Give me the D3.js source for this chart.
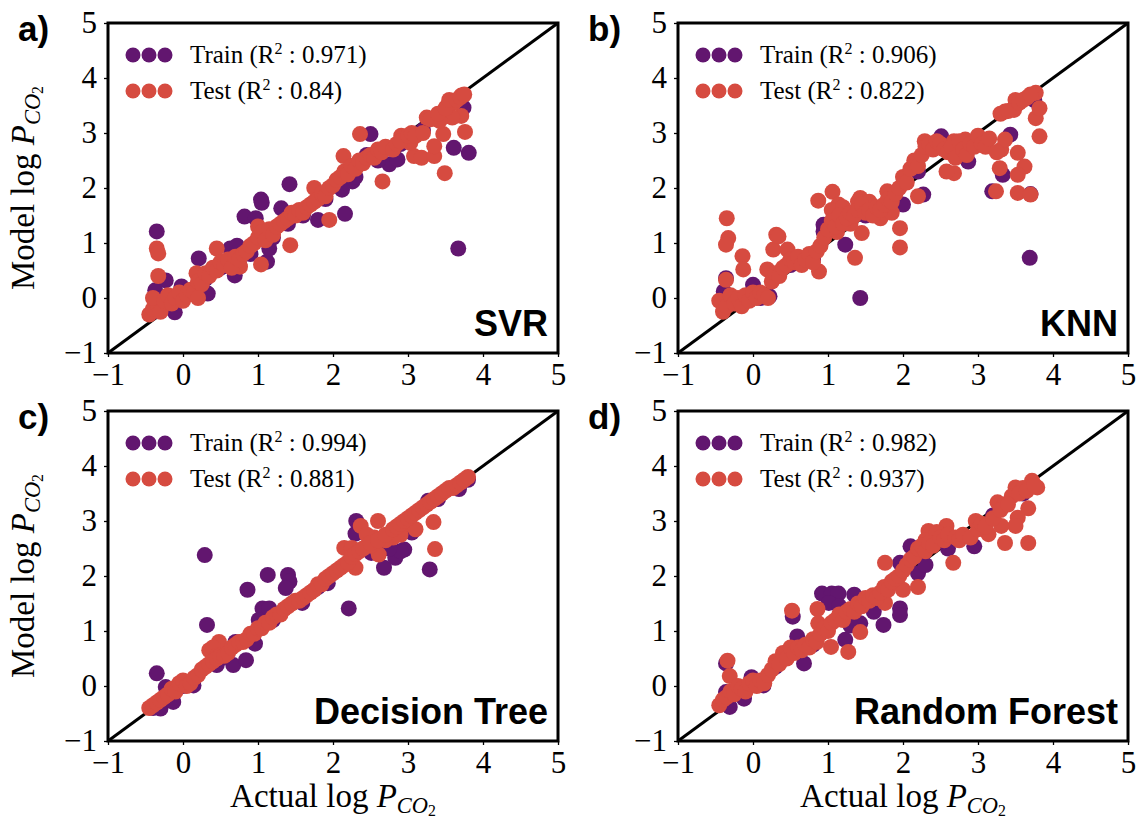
<!DOCTYPE html>
<html>
<head>
<meta charset="utf-8">
<script src="https://cdn.jsdelivr.net/npm/d3@7"></script>
<style>
body { margin: 0; background: #fff; }
</style>
</head>
<body>
<div id="painting"></div>
<script>
// actual vs model log P(CO2): [actual, model]
var svrTrain = [
  [-0.35,1.21],[3.67,0.90],[1.42,2.07],[1.04,1.79],[1.05,1.73],[0.82,1.48],[1.31,1.63],[2.16,1.53],
  [1.80,1.42],[2.50,2.98],[3.61,2.73],[3.81,2.64],[3.74,3.46],[-0.23,0.32],[-0.37,0.14],[-0.02,0.21],
  [0.33,0.08],[-0.11,-0.26],[0.21,0.72],[0.63,0.90],[0.69,0.41],[1.12,0.66],[1.15,0.90],[2.75,2.43],
  [2.86,2.52],[2.26,2.12],[2.12,1.97],[0.97,1.45],[0.72,0.95],[-0.40,-0.25],[-0.30,0.00],[0.00,0.10],
  [0.30,0.35],[0.50,0.55],[0.75,0.60],[0.90,0.80],[1.20,1.10],[1.40,1.35],[1.60,1.50],[1.90,1.80],
  [2.30,2.20],[2.45,2.60],[2.60,2.50],[2.90,2.80],[3.20,3.05],[3.45,3.30],[3.70,3.55]
];
var svrTest = [
  [-0.35,0.90],[-0.33,0.81],[-0.33,0.40],[1.43,0.96],[1.04,0.61],[2.36,2.98],[2.66,2.12],[3.49,2.27],
  [3.08,2.58],[3.18,2.55],[3.35,2.58],[3.35,2.76],[3.47,2.98],[3.76,3.02],[3.71,3.31],[3.59,3.28],
  [3.25,3.28],[3.42,3.22],[1.95,1.42],[1.75,2.00],[2.14,2.58],[2.91,2.95],[3.03,2.82],[3.61,3.55],
  [3.71,3.68],[3.52,3.49],[0.45,0.90],[0.18,0.45],[0.76,0.57],
  [-0.45,-0.30],[-0.40,-0.20],[-0.35,-0.10],[-0.40,0.00],[-0.30,-0.25],[-0.25,-0.05],[-0.20,0.05],
  [-0.15,-0.10],[-0.10,0.00],[-0.05,0.10],[0.00,-0.05],[0.05,0.05],[0.10,0.15],[0.15,0.10],[0.20,0.30],
  [0.25,0.25],[0.20,0.00],[0.30,0.45],[0.35,0.40],[0.40,0.55],[0.45,0.50],[0.50,0.65],[0.55,0.60],
  [0.60,0.70],[0.65,0.55],[0.70,0.75],[0.75,0.70],[0.80,0.80],[0.85,0.85],[0.90,0.95],[0.95,1.00],
  [1.00,1.10],[1.00,1.30],[1.05,1.20],[1.10,1.05],[1.15,1.25],[1.20,1.15],[1.25,1.30],[1.30,1.35],
  [1.35,1.40],[1.40,1.45],[1.45,1.55],[1.50,1.50],[1.55,1.60],[1.60,1.55],[1.65,1.65],[1.70,1.70],
  [1.75,1.75],[1.80,1.80],[1.85,1.90],[1.90,1.85],[1.95,2.00],[2.00,2.05],[2.05,2.15],[2.10,2.20],
  [2.15,2.30],[2.20,2.25],[2.25,2.40],[2.30,2.35],[2.35,2.50],[2.40,2.45],[2.45,2.55],[2.50,2.60],
  [2.55,2.55],[2.60,2.70],[2.65,2.65],[2.70,2.75],[2.80,2.70],[2.85,2.80],[2.90,2.85],[3.00,2.95],
  [3.05,3.00],[3.10,2.95],[3.20,3.00],[3.30,3.25],[3.40,3.35],[3.50,3.45],[3.55,3.60],[3.65,3.60],
  [3.70,3.65],[3.75,3.70]
];

var knnTrain = [
  [1.43,0.00],[3.69,0.73],[3.43,2.97],[3.33,2.24],[3.19,1.94],[3.70,1.89],[2.27,1.88],[2.00,1.70],
  [2.87,2.48],[2.51,2.94],[-0.36,0.36],[-0.39,0.12],[0.00,0.24],[0.94,1.33],[0.94,1.21],[1.23,0.97],
  [0.22,0.03],[-0.30,-0.10],[0.10,0.00],[0.50,0.60],[0.80,0.70],[1.10,1.40],[1.50,1.50],[1.80,1.60],
  [2.20,2.30],[2.60,2.75],[2.90,2.80],[3.50,3.50],[3.75,3.60]
];
var knnTest = [
  [-0.35,1.45],[-0.33,1.09],[-0.36,0.97],[-0.14,0.76],[-0.13,0.52],[-0.36,0.33],[0.19,0.52],[0.27,0.88],
  [0.31,1.15],[0.34,1.12],[0.46,0.88],[0.87,1.77],[1.06,1.93],[1.14,1.70],[0.88,0.48],[1.36,0.73],
  [1.43,1.82],[1.45,1.18],[1.96,0.92],[1.96,1.27],[1.79,1.94],[2.20,1.85],[2.68,2.27],[2.58,2.30],
  [3.24,1.94],[3.29,2.36],[3.53,2.64],[3.62,2.39],[3.53,2.24],[3.53,1.91],[3.70,1.88],[3.82,2.94],
  [3.77,3.27],[3.82,3.45],[3.31,2.70],[3.36,2.88],[3.36,3.39],[3.48,3.42],[3.50,3.60],[3.65,3.64],
  [3.77,3.73],[2.68,2.85],[2.29,2.85],[2.83,2.88],[1.05,1.60],[1.12,1.20],[1.20,1.65],[1.30,1.35],
  [1.40,1.75],[1.55,1.75],[1.70,1.45],[1.85,1.55],
  [-0.45,-0.05],[-0.40,-0.25],[-0.35,-0.15],[-0.30,0.05],[-0.25,-0.10],[-0.20,0.00],[-0.15,-0.15],
  [-0.10,0.05],[-0.05,-0.05],[0.00,0.10],[0.05,0.00],[0.10,0.10],[0.15,0.05],[0.20,0.00],[0.25,0.30],
  [0.30,0.45],[0.35,0.40],[0.40,0.55],[0.45,0.60],[0.50,0.70],[0.55,0.65],[0.60,0.75],[0.65,0.60],
  [0.70,0.70],[0.75,0.80],[0.80,0.65],[0.85,0.85],[0.90,0.95],[0.95,1.10],[1.00,1.25],[1.05,1.40],
  [1.10,1.30],[1.15,1.50],[1.20,1.35],[1.25,1.45],[1.30,1.55],[1.35,1.50],[1.40,1.60],[1.45,1.70],
  [1.50,1.55],[1.55,1.60],[1.60,1.50],[1.65,1.65],[1.70,1.60],[1.75,1.70],[1.80,1.80],[1.85,1.75],
  [1.90,1.90],[1.95,2.00],[2.00,2.20],[2.05,2.10],[2.10,2.35],[2.15,2.50],[2.20,2.40],[2.25,2.60],
  [2.30,2.75],[2.35,2.80],[2.40,2.70],[2.45,2.85],[2.50,2.80],[2.55,2.70],[2.60,2.65],[2.65,2.75],
  [2.70,2.55],[2.75,2.85],[2.80,2.70],[2.85,2.60],[2.90,2.80],[2.95,2.75],[3.00,2.95],[3.05,2.80],
  [3.10,2.75],[3.15,2.90],[3.25,2.65],[3.30,3.35],[3.40,3.40],[3.55,3.55],[3.60,3.60],[3.70,3.70]
];

var dtTrain = [
  [0.29,2.38],[0.32,1.11],[-0.35,0.23],[-0.23,-0.02],[1.13,2.02],[0.86,1.75],[1.40,2.02],[1.42,1.90],
  [1.37,1.78],[1.06,1.41],[1.15,1.41],[1.01,1.20],[2.21,1.41],[2.31,3.00],[2.30,2.77],[3.29,2.12],
  [2.68,2.15],[2.83,2.33],[2.95,2.48],[2.90,2.45],[2.51,2.42],[3.27,3.37],[3.68,3.58],[3.05,2.79],
  [0.67,0.38],[0.84,0.47],[0.96,0.77],[0.45,0.38],[-0.30,-0.41],[-0.13,-0.29],[0.14,0.01],[1.93,1.87],
  [1.59,1.51],[0.70,0.80],[2.75,2.50],[3.80,3.75],[-0.40,-0.40],[0.00,0.00],[0.50,0.50],[1.20,1.20],
  [1.80,1.80],[2.60,2.60],[3.40,3.40]
];
var dtTest = [
  [3.34,2.98],[3.36,2.49],[2.60,3.00],[2.37,2.91],[2.61,2.39],[2.15,2.51],[2.25,2.51],[2.30,2.15],
  [0.48,0.80],[0.35,0.65],[0.40,0.70],[0.45,0.55],[2.55,2.70],[2.50,2.55],[2.45,2.75],[2.90,2.75],
  [3.00,2.95],[3.10,2.85],[2.80,2.70],[2.70,2.65],
  [-0.45,-0.40],[-0.40,-0.35],[-0.35,-0.30],[-0.30,-0.25],[-0.25,-0.20],[-0.20,-0.15],[-0.15,-0.05],
  [-0.10,-0.10],[-0.05,0.05],[0.00,0.10],[0.05,0.00],[0.10,0.05],[0.15,0.15],[0.20,0.20],[0.25,0.30],
  [0.30,0.35],[0.35,0.40],[0.40,0.45],[0.45,0.50],[0.50,0.55],[0.55,0.55],[0.60,0.60],[0.65,0.70],
  [0.70,0.75],[0.75,0.80],[0.80,0.80],[0.85,0.85],[0.90,0.95],[0.95,0.95],[1.00,1.05],[1.05,1.05],
  [1.10,1.15],[1.15,1.15],[1.20,1.25],[1.25,1.30],[1.30,1.30],[1.35,1.40],[1.40,1.45],[1.45,1.50],
  [1.50,1.55],[1.55,1.55],[1.60,1.60],[1.65,1.65],[1.70,1.70],[1.75,1.75],[1.80,1.85],[1.85,1.85],
  [1.90,1.95],[1.95,2.00],[2.00,2.05],[2.05,2.10],[2.10,2.15],[2.15,2.20],[2.20,2.25],[2.25,2.35],
  [2.30,2.40],[2.35,2.45],[2.40,2.50],[2.50,2.60],[2.60,2.65],[2.70,2.75],[2.80,2.85],[2.85,2.90],
  [2.90,2.95],[2.95,3.00],[3.00,3.05],[3.05,3.10],[3.10,3.15],[3.15,3.20],[3.20,3.25],[3.25,3.30],
  [3.30,3.35],[3.35,3.40],[3.40,3.45],[3.45,3.50],[3.50,3.55],[3.55,3.60],[3.60,3.60],[3.65,3.65],
  [3.70,3.70],[3.75,3.75],[3.80,3.80]
];

var rfTrain = [
  [0.53,1.26],[0.59,0.90],[0.92,1.68],[1.05,1.68],[1.14,1.68],[1.01,1.51],[1.23,0.84],[1.35,1.66],
  [1.43,1.14],[1.61,1.35],[1.74,1.11],[1.96,1.41],[1.96,1.29],[1.96,2.24],[2.20,2.05],[2.10,2.54],
  [2.95,2.54],[-0.36,-0.11],[-0.31,-0.38],[-0.12,-0.23],[-0.02,0.16],[0.14,0.01],[0.68,0.41],[-0.36,0.41],
  [1.15,1.45],[1.30,1.10],[2.30,2.20],[2.60,2.50],[3.20,3.10],[3.60,3.50],[0.30,0.35],[0.80,0.75],
  [1.50,1.55],[1.80,1.80]
];
var rfTest = [
  [-0.34,0.46],[-0.31,0.18],[0.52,1.37],[0.86,1.40],[0.87,1.14],[1.04,0.71],[1.27,0.62],[1.43,0.98],
  [1.76,2.24],[1.76,1.51],[2.20,1.80],[2.00,1.75],[2.67,2.24],[3.36,2.60],[3.67,2.60],[3.67,3.23],
  [3.53,3.06],[3.50,2.91],[3.31,2.91],[2.97,3.00],[3.14,2.76],[2.34,2.82],[2.58,2.91],[3.79,3.61],
  [3.72,3.73],[3.26,3.34],[3.35,3.30],[3.50,3.61],[3.60,3.60],[3.45,3.45],[2.30,2.65],[2.45,2.80],
  [2.20,2.45],
  [-0.45,-0.35],[-0.40,-0.25],[-0.35,-0.20],[-0.30,-0.10],[-0.25,-0.15],[-0.20,0.00],[-0.15,-0.05],
  [-0.10,-0.10],[-0.05,0.05],[0.00,0.10],[0.05,0.00],[0.10,0.10],[0.15,0.05],[0.20,0.20],[0.25,0.30],
  [0.30,0.45],[0.35,0.40],[0.40,0.60],[0.45,0.50],[0.50,0.70],[0.55,0.60],[0.60,0.70],[0.65,0.65],
  [0.70,0.75],[0.75,0.70],[0.80,0.85],[0.85,0.80],[0.90,0.95],[0.95,1.05],[1.00,1.00],[1.05,1.15],
  [1.10,1.20],[1.15,1.30],[1.20,1.20],[1.25,1.35],[1.30,1.40],[1.35,1.35],[1.40,1.50],[1.45,1.45],
  [1.50,1.60],[1.55,1.55],[1.60,1.65],[1.65,1.60],[1.70,1.70],[1.75,1.80],[1.80,1.75],[1.85,1.90],
  [1.90,1.95],[1.95,2.00],[2.00,2.10],[2.05,2.20],[2.10,2.30],[2.15,2.35],[2.20,2.50],[2.25,2.55],
  [2.30,2.45],[2.35,2.60],[2.40,2.55],[2.50,2.70],[2.55,2.65],[2.60,2.75],[2.70,2.70],[2.75,2.65],
  [2.80,2.75],[2.90,2.70],[3.00,2.85],[3.05,2.95],[3.10,2.90],[3.20,3.05],[3.30,3.20],[3.40,3.30],
  [3.55,3.50],[3.65,3.55],[3.75,3.65]
];

var modelNames = ["SVR", "KNN", "Decision Tree", "Random Forest"];
var panelLetters = ["a)", "b)", "c)", "d)"];
var trainR2 = ["0.971", "0.906", "0.994", "0.982"];
var testR2 = ["0.84", "0.822", "0.881", "0.937"];
var tickValues = [-1, 0, 1, 2, 3, 4, 5];

var purple = "#62166f";
var red = "#d64b40";
var serif = "'Liberation Serif', 'Times New Roman', serif";
var sans = "'Liberation Sans', Arial, sans-serif";

var w = 450, h = 330;
var origins = [[108, 23], [678, 23], [108, 411], [678, 411]];
var allData = [[svrTrain, svrTest], [knnTrain, knnTest], [dtTrain, dtTest], [rfTrain, rfTest]];

var svg = d3.select("#painting")
  .append("svg")
  .attr("width", 1138)
  .attr("height", 822)
  .style("background", "#fff");

var xScale = d3.scaleLinear().domain([-1, 5]).range([0, w]);
var yScale = d3.scaleLinear().domain([-1, 5]).range([h, 0]);

// axis title with P_{CO_2}
function pco2(sel, first, size) {
  sel.append("tspan").text(first + " log ");
  sel.append("tspan").attr("font-style", "italic").text("P");
  sel.append("tspan").attr("font-style", "italic").attr("font-size", size * 0.68).attr("dy", size * 0.18).text("CO");
  sel.append("tspan").attr("font-size", size * 0.48).attr("dy", size * 0.1).text("2");
}

allData.forEach(function(pair, k) {
  var g = svg.append("g")
    .attr("transform", "translate(" + origins[k][0] + "," + origins[k][1] + ")");

  g.append("line")
    .attr("x1", xScale(-1)).attr("y1", yScale(-1))
    .attr("x2", xScale(5)).attr("y2", yScale(5))
    .attr("stroke", "#000")
    .attr("stroke-width", 3);

  g.selectAll("circle.train")
    .data(pair[0])
    .enter()
    .append("circle")
    .attr("class", "train")
    .attr("cx", function(d) { return xScale(d[0]); })
    .attr("cy", function(d) { return yScale(d[1]); })
    .attr("r", 8)
    .attr("fill", purple);

  g.selectAll("circle.test")
    .data(pair[1])
    .enter()
    .append("circle")
    .attr("class", "test")
    .attr("cx", function(d) { return xScale(d[0]); })
    .attr("cy", function(d) { return yScale(d[1]); })
    .attr("r", 8)
    .attr("fill", red);

  var xAxis = d3.axisBottom(xScale).tickValues(tickValues).tickSize(4).tickPadding(6).tickFormat(d3.format("d"));
  var yAxis = d3.axisLeft(yScale).tickValues(tickValues).tickSize(4).tickPadding(7).tickFormat(d3.format("d"));

  var gx = g.append("g").attr("transform", "translate(0," + h + ")").call(xAxis);
  var gy = g.append("g").call(yAxis);
  [gx, gy].forEach(function(a) {
    a.select(".domain").remove();
    a.selectAll("line").attr("stroke-width", 1.3);
    a.selectAll("text").style("font-family", serif).style("font-size", "31px").attr("fill", "#000");
  });

  g.append("rect")
    .attr("width", w)
    .attr("height", h)
    .attr("fill", "none")
    .attr("stroke", "#000")
    .attr("stroke-width", 3);

  // legend
  var legend = [[purple, "Train", trainR2[k]], [red, "Test", testR2[k]]];
  legend.forEach(function(item, j) {
    var cy = 32 + j * 36;
    [25, 41, 57].forEach(function(cx) {
      g.append("circle").attr("cx", cx).attr("cy", cy).attr("r", 7.5).attr("fill", item[0]);
    });
    var t = g.append("text")
      .attr("x", 82)
      .attr("y", cy + 8)
      .style("font-family", serif)
      .style("font-size", "25px");
    t.append("tspan").text(item[1] + " (R");
    t.append("tspan").attr("font-size", 16).attr("dy", -9).text("2");
    t.append("tspan").attr("dy", 9).text(" : " + item[2] + ")");
  });

  g.append("text")
    .attr("x", w - 10)
    .attr("y", h - 17)
    .attr("text-anchor", "end")
    .style("font-family", sans)
    .style("font-weight", "bold")
    .style("font-size", "36px")
    .text(modelNames[k]);

  svg.append("text")
    .attr("x", origins[k][0] - 90)
    .attr("y", origins[k][1] + 18)
    .style("font-family", sans)
    .style("font-weight", "bold")
    .style("font-size", "35px")
    .text(panelLetters[k]);

  if (k % 2 == 0) {
    var yt = svg.append("text")
      .attr("transform", "translate(34," + (origins[k][1] + h / 2) + ") rotate(-90)")
      .attr("text-anchor", "middle")
      .style("font-family", serif)
      .style("font-size", "33px");
    pco2(yt, "Model", 33);
  }
  if (k >= 2) {
    var xt = svg.append("text")
      .attr("x", origins[k][0] + w / 2)
      .attr("y", 807)
      .attr("text-anchor", "middle")
      .style("font-family", serif)
      .style("font-size", "33px");
    pco2(xt, "Actual", 33);
  }
});
</script>
</body>
</html>
